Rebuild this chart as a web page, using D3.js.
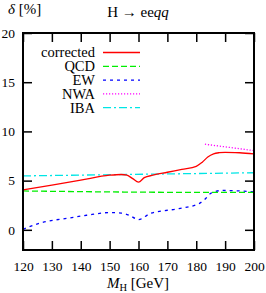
<!DOCTYPE html>
<html>
<head>
<meta charset="utf-8">
<script src="https://cdn.jsdelivr.net/npm/d3@7"></script>
<style>
  body { margin: 0; background: #fff; }
  svg text { font-family: "Liberation Serif", "DejaVu Serif", serif; font-size: 14.5px; fill: #000; }
</style>
</head>
<body>
<script>
// values
var xTicks = [120, 130, 140, 150, 160, 170, 180, 190, 200];
var yTicks = [0, 5, 10, 15, 20];

var massCorr = [120, 130, 140, 150, 154, 156, 158, 160, 162, 165, 170, 175, 180, 182, 184, 186, 188, 190, 195, 200];
var corrected = [4.05, 4.55, 5.05, 5.55, 5.62, 5.55, 5.2, 4.85, 5.3, 5.55, 5.85, 6.15, 6.45, 6.85, 7.4, 7.72, 7.84, 7.88, 7.83, 7.72];

var massQcd = [120, 140, 160, 180, 200];
var qcd = [3.95, 3.88, 3.83, 3.8, 3.8];

var massEw = [120, 126, 136, 142, 150, 154, 157, 160, 164, 174, 181, 183, 185, 189, 195, 200];
var ew = [0.05, 0.7, 1.2, 1.48, 1.75, 1.7, 1.45, 1.04, 1.65, 2.16, 2.67, 3.1, 3.7, 4.0, 3.95, 3.85];

var massNwa = [183, 200];
var nwa = [8.7, 8.05];

var massIba = [120, 200];
var iba = [5.48, 5.8];

var legendNames = ["corrected", "QCD", "EW", "NWA", "IBA"];
var colors = ["#ff0000", "#00ee00", "#0000ff", "#ff00ff", "#00e5e5"];
var dashes = [null, "6,3", "3,4", "1.2,1.8", "8,3,2,3"];

var W = 266, H = 293;
var padL = 23, padR = 254, padT = 33, padB = 250;

var svg = d3.select("body").append("svg").attr("width", W).attr("height", H);

var x = d3.scaleLinear().domain([120, 200]).range([padL, padR]);
var y = d3.scaleLinear().domain([-2.05, 20]).range([padB, padT]);

var tickLen = 9;

// ticks (inward on all sides)
var axB = d3.axisBottom(x).tickValues(xTicks).tickSize(-tickLen).tickPadding(11).tickFormat(d3.format("d"));
var axT = d3.axisTop(x).tickValues(xTicks).tickSize(-tickLen).tickFormat("");
var axL = d3.axisLeft(y).tickValues(yTicks).tickSize(-tickLen).tickPadding(8);
var axR = d3.axisRight(y).tickValues(yTicks).tickSize(-tickLen).tickFormat("");

function styleAxis(g) {
  g.select(".domain").remove();
  g.attr("font-family", null).attr("font-size", null);
  g.selectAll(".tick line").attr("stroke", "#000").attr("stroke-width", 1.5);
  g.selectAll(".tick text").style("font-size", "13.5px");
}

svg.append("g").attr("transform", "translate(0," + padB + ")").call(axB).call(styleAxis);
svg.append("g").attr("transform", "translate(0," + padT + ")").call(axT).call(styleAxis);
svg.append("g").attr("transform", "translate(" + padL + ",0)").call(axL).call(styleAxis);
svg.append("g").attr("transform", "translate(" + padR + ",0)").call(axR).call(styleAxis);

// curves
var series = [
  [massCorr, corrected],
  [massQcd, qcd],
  [massEw, ew],
  [massNwa, nwa],
  [massIba, iba]
];

var line = d3.line()
  .x(function (d) { return x(d[0]); })
  .y(function (d) { return y(d[1]); })
  .curve(d3.curveMonotoneX);

var plot = svg.append("g");
// draw back to front: IBA, NWA, EW, QCD, corrected
[4, 3, 2, 1, 0].forEach(function (i) {
  var pts = series[i][0].map(function (m, k) { return [m, series[i][1][k]]; });
  plot.append("path")
    .attr("d", line(pts))
    .attr("fill", "none")
    .attr("stroke", colors[i])
    .attr("stroke-width", 1.3)
    .attr("stroke-dasharray", dashes[i]);
});

// legend
var legY0 = 52.5, legStep = 13.8;
legendNames.forEach(function (name, i) {
  var yy = legY0 + i * legStep;
  svg.append("text")
    .attr("x", 95).attr("y", yy + 4.8)
    .attr("text-anchor", "end")
    .text(name);
  svg.append("line")
    .attr("x1", 103).attr("x2", 140)
    .attr("y1", yy).attr("y2", yy)
    .attr("stroke", colors[i])
    .attr("stroke-width", 1.3)
    .attr("stroke-dasharray", dashes[i]);
});

// frame
svg.append("rect")
  .attr("x", padL).attr("y", padT)
  .attr("width", padR - padL).attr("height", padB - padT)
  .attr("fill", "none").attr("stroke", "#000").attr("stroke-width", 2);

// title
var title = svg.append("text").attr("x", 138).attr("y", 17).attr("text-anchor", "middle").style("font-size", "15px");
title.append("tspan").text("H \u2192 ee");
title.append("tspan").style("font-style", "italic").text("qq");

// y label
var ylab = svg.append("text").attr("x", 8).attr("y", 14).style("font-size", "15px");
ylab.append("tspan").style("font-style", "italic").text("\u03b4");
ylab.append("tspan").text(" [%]");

// x label
var xlab = svg.append("text").attr("x", 138).attr("y", 288).attr("text-anchor", "middle").style("font-size", "15px");
xlab.append("tspan").style("font-style", "italic").text("M");
xlab.append("tspan").attr("dy", 3).style("font-size", "10.5px").text("H");
xlab.append("tspan").attr("dy", -3).text(" [GeV]");
</script>
</body>
</html>
